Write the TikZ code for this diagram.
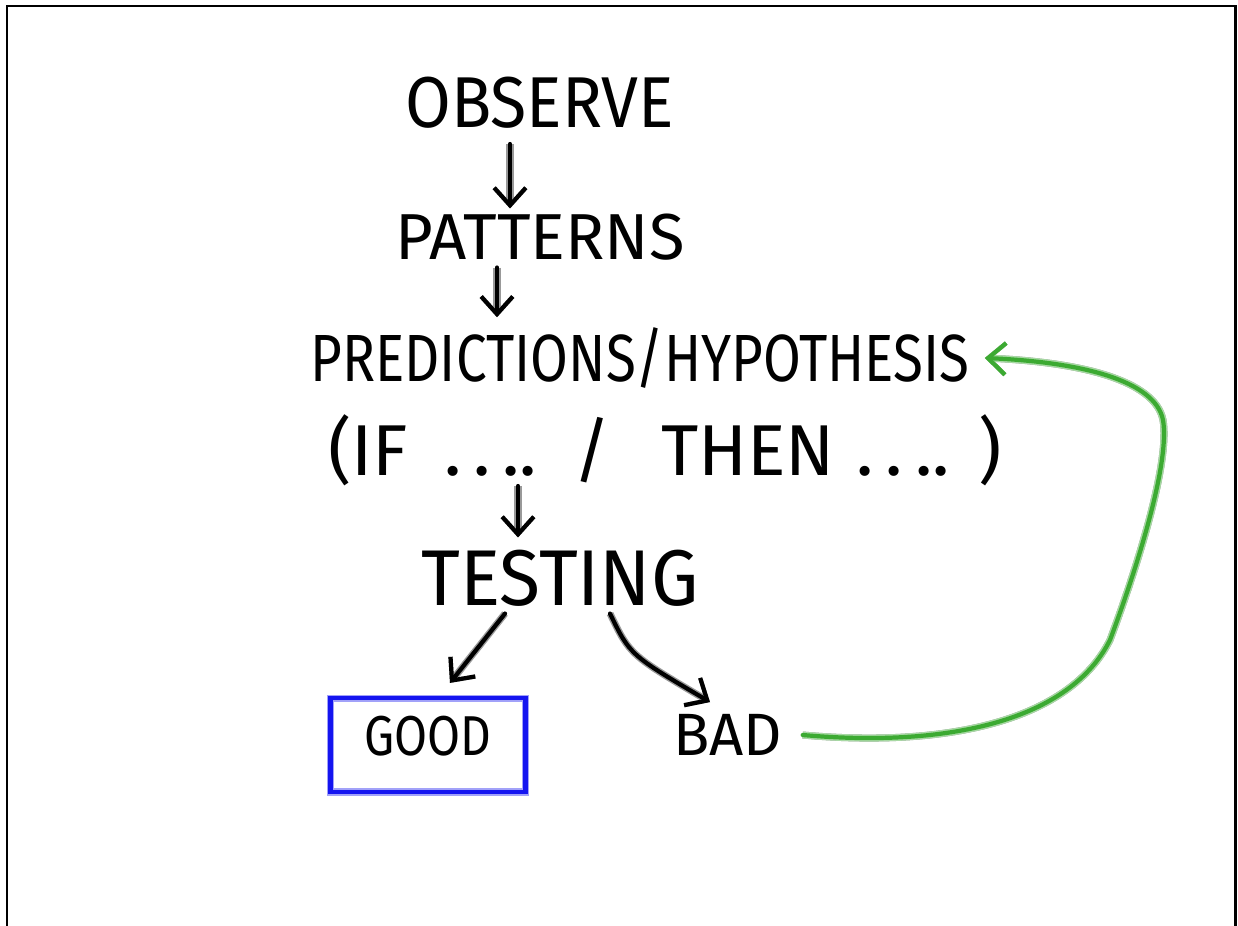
\documentclass[tikz,border=0pt]{standalone}
\usepackage{fontspec}
\setmainfont{Fira Sans}
\usetikzlibrary{arrows.meta}

\definecolor{penblue}{RGB}{20,20,240}
\definecolor{pengreen}{RGB}{60,170,50}

% squeeze a word sideways, like the narrow hand lettering
\newcommand\narrowed[2]{\scalebox{#1}[1]{#2}}

\tikzset{
  ink/.style={line width=2.4pt, line cap=round, line join=round,
    preaction={draw=black!40, line width=4pt}},
  word/.style={inner sep=0pt},
  barb/.style={-{Straight Barb[length=10pt,width=18pt,line width=2.4pt]}},
}

\begin{document}
\begin{tikzpicture}[x=0.02cm,y=-0.02cm]
  \useasboundingbox (0,0) rectangle (1238,926);
  % frame, open at the bottom
  \draw[line width=1.7pt] (7,926) -- (7,6) -- (1235,6) -- (1235,926);

  \node[word, font=\fontsize{41}{41}\selectfont] (observe) at (540,103)
    {\narrowed{0.92}{OBSERVE}};
  \node[word, font=\fontsize{37}{37}\selectfont] (patterns) at (540,237)
    {\narrowed{1}{PATTERNS}};
  \node[word, font=\fontsize{38}{38}\selectfont] (predict) at (640,358)
    {\narrowed{0.82}{PREDICTIONS/HYPOTHESIS}};
  \node[word, font=\fontsize{41}{41}\selectfont] (ifthen) at (665,450)
    {(IF\hspace{0.5em}.\,.\,..\hspace{0.5em}/\hspace{0.7em}THEN\hspace{0.3em}.\,.\,..\hspace{0.4em})};
  \node[word, font=\fontsize{45}{45}\selectfont] (testing) at (560,578)
    {\narrowed{0.95}{TESTING}};
  \node[draw=penblue, line width=2.4pt, preaction={draw=penblue!40, line width=4pt},
    minimum width=3.9cm, minimum height=1.88cm, text depth=0.35cm,
    font=\fontsize{32}{32}\selectfont] (good) at (428,745)
    {\narrowed{0.85}{GOOD}};
  \node[word, font=\fontsize{34}{34}\selectfont] (bad) at (728,735) {BAD};

  % down the chain
  \draw[ink, barb] ([shift={(-30,15)}]observe.south) -- ([shift={(-30,-5)}]patterns.north);
  \draw[ink, barb] ([shift={(-43,7)}]patterns.south) -- ([shift={(-143,-10)}]predict.north);
  \draw[ink, barb] ([shift={(-147,0)}]ifthen.south) -- ([shift={(-42,-12)}]testing.north);
  \draw[ink, barb] ([shift={(-55,7)}]testing.south) -- ([shift={(22,-13)}]good.north);
  \draw[ink, barb] ([shift={(50,7)}]testing.south) .. controls (630,655) .. ([shift={(-18,-12)}]bad.north);

  % back to the hypothesis
  \draw[ink, draw=pengreen, preaction={draw=pengreen!45, line width=4pt}, barb]
    ([xshift=0.4cm]bad.east) .. controls (950,748) and (1070,720) .. (1110,640)
    .. controls (1140,560) and (1170,460) .. (1163,420)
    .. controls (1155,380) and (1080,362) .. ([xshift=0.3cm]predict.east);
\end{tikzpicture}
\end{document}
